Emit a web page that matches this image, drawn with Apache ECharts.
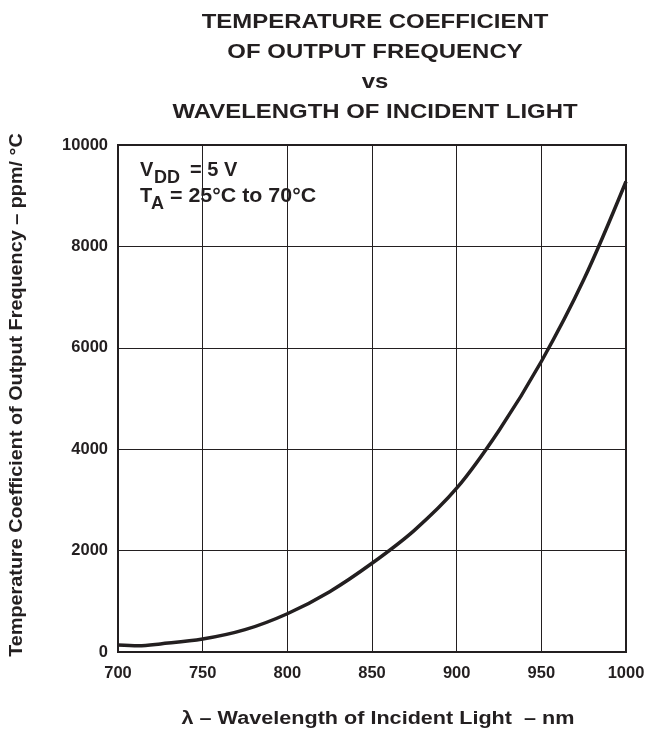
<!DOCTYPE html>
<html>
<head>
<meta charset="utf-8">
<script src="https://cdn.jsdelivr.net/npm/echarts@6/dist/echarts.min.js"></script>
<style>
html,body{margin:0;padding:0;background:#fff;}
#chart{width:653px;height:730px;}
</style>
</head>
<body>
<div id="chart"></div>
<script>
// Data
const wavelength = [700, 712, 725, 750, 775, 800, 825, 850, 875, 900, 925, 950, 975, 1000];
const tempCoeff  = [140, 125, 160, 255, 440, 755, 1190, 1750, 2400, 3230, 4370, 5730, 7340, 9280];
const titleLines = ['TEMPERATURE COEFFICIENT', 'OF OUTPUT FREQUENCY', 'vs', 'WAVELENGTH OF INCIDENT LIGHT'];
const xTicks = [700, 750, 800, 850, 900, 950, 1000];
const yTicks = [0, 2000, 4000, 6000, 8000, 10000];
const xName = 'λ – Wavelength of Incident Light  – nm';
const yName = 'Temperature Coefficient of Output Frequency – ppm/ °C';

const FONT = '"Liberation Sans", Arial, sans-serif';
const INK = '#231f20';
const txt = (text, size, extra) => Object.assign({
  type: 'text', z: 100,
  style: Object.assign({text: text, fontFamily: FONT, fontWeight: 'bold', fontSize: size, fill: INK})
}, extra || {});

const chart = echarts.init(document.getElementById('chart'), null, {renderer: 'canvas'});
chart.setOption({
  backgroundColor: '#fff',
  animation: false,
  grid: {left: 118, right: 27, top: 145, bottom: 78, show: true, borderColor: INK, borderWidth: 2, backgroundColor: 'transparent'},
  xAxis: {
    type: 'value', min: xTicks[0], max: xTicks[xTicks.length - 1], interval: 50,
    axisLine: {show: false},
    axisTick: {show: false},
    axisLabel: {fontFamily: FONT, fontWeight: 'bold', fontSize: 16.5, color: INK, margin: 13, formatter: v => String(v)},
    splitLine: {show: true, lineStyle: {color: INK, width: 1}}
  },
  yAxis: {
    type: 'value', min: yTicks[0], max: yTicks[yTicks.length - 1], interval: 2000,
    axisLine: {show: false},
    axisTick: {show: false},
    axisLabel: {fontFamily: FONT, fontWeight: 'bold', fontSize: 16.5, color: INK, margin: 10, formatter: v => String(v)},
    splitLine: {show: true, lineStyle: {color: INK, width: 1}}
  },
  graphic: [
    // title
    {type: 'text', x: 375, y: 7, scaleX: 1.14, z: 100,
     style: {text: titleLines.join('\n'), fontFamily: FONT, fontWeight: 'bold', fontSize: 21, lineHeight: 30,
             fill: INK, align: 'center', verticalAlign: 'top'}},
    // x-axis name
    {type: 'text', x: 378, y: 719, scaleX: 1.2, z: 100,
     style: {text: xName, fontFamily: FONT, fontWeight: 'bold', fontSize: 18, fill: INK, align: 'center', verticalAlign: 'middle'}},
    // y-axis name
    {type: 'text', x: 17, y: 395, rotation: Math.PI / 2, scaleX: 1.1, z: 100,
     style: {text: yName, fontFamily: FONT, fontWeight: 'bold', fontSize: 18, fill: INK, align: 'center', verticalAlign: 'middle'}},
    // annotation
    {type: 'text', x: 140, y: 170.5, z: 100, style: {text: 'V', fontFamily: FONT, fontWeight: 'bold', fontSize: 20, fill: INK, align: 'left', verticalAlign: 'middle'}},
    {type: 'text', x: 154, y: 178, z: 100, style: {text: 'DD', fontFamily: FONT, fontWeight: 'bold', fontSize: 18, fill: INK, align: 'left', verticalAlign: 'middle'}},
    {type: 'text', x: 190, y: 170.5, z: 100, style: {text: '= 5 V', fontFamily: FONT, fontWeight: 'bold', fontSize: 20, fill: INK, align: 'left', verticalAlign: 'middle'}},
    {type: 'text', x: 140, y: 196.5, z: 100, style: {text: 'T', fontFamily: FONT, fontWeight: 'bold', fontSize: 20, fill: INK, align: 'left', verticalAlign: 'middle'}},
    {type: 'text', x: 151, y: 204, z: 100, style: {text: 'A', fontFamily: FONT, fontWeight: 'bold', fontSize: 18, fill: INK, align: 'left', verticalAlign: 'middle'}},
    {type: 'text', x: 170, y: 196.5, scaleX: 1.07, z: 100, style: {text: '= 25°C to 70°C', fontFamily: FONT, fontWeight: 'bold', fontSize: 20, fill: INK, align: 'left', verticalAlign: 'middle'}}
  ],
  series: [{
    type: 'line',
    data: wavelength.map((w, i) => [w, tempCoeff[i]]),
    smooth: 0.35,
    showSymbol: false,
    lineStyle: {color: INK, width: 3.5},
    z: 10
  }]
});
</script>
</body>
</html>
